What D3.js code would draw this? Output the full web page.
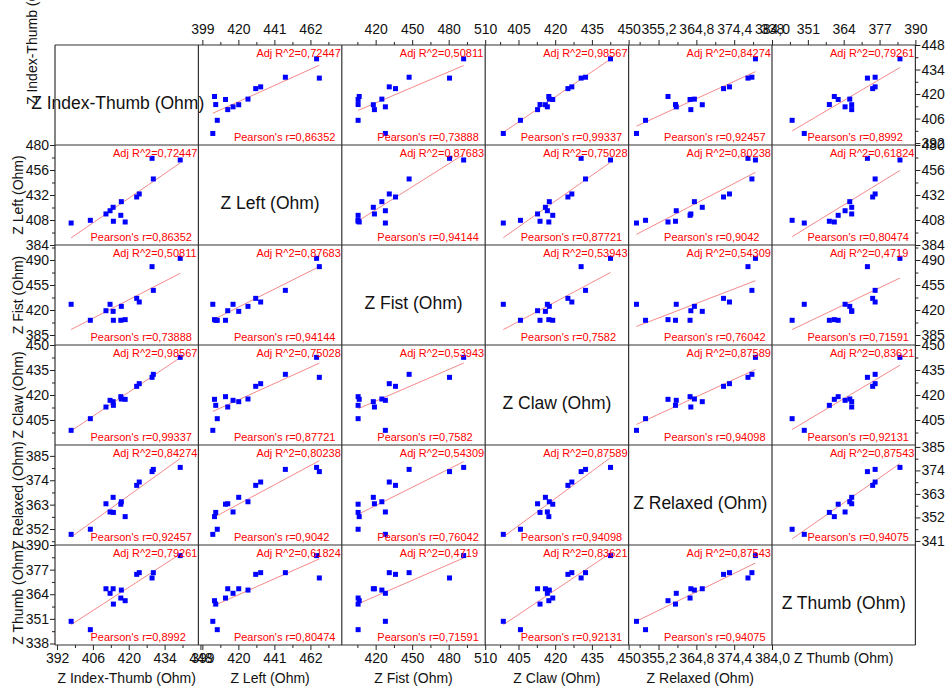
<!DOCTYPE html>
<html lang="en">
<head>
    <meta charset="utf-8" />
    <title>Impedance scatter matrix</title>
    <script src="https://cdnjs.cloudflare.com/ajax/libs/d3/7.8.5/d3.min.js"></script>
    <style>
        body { margin: 0; background: #fff; }
        text { font-family: Arial, "Liberation Sans", sans-serif; }
    </style>
</head>
<body>
<script>
    // Variable names (diagonal + axis titles)
    const names = ["Z Index-Thumb (Ohm)", "Z Left (Ohm)", "Z Fist (Ohm)", "Z Claw (Ohm)", "Z Relaxed (Ohm)", "Z Thumb (Ohm)"];

    // Measurements, one value per subject (14 subjects)
    const indexThumb = [397.5, 405.0, 411.1, 412.7, 413.9, 414.0, 416.9, 417.1, 418.6, 423.1, 424.1, 429.1, 429.6, 440.1];
    const leftHand   = [405.1, 407.7, 413.8, 416.9, 420.2, 406.8, 412.5, 425.6, 406.1, 430.1, 433.0, 467.2, 447.4, 465.6];
    const fist       = [428.0, 405.6, 419.0, 428.0, 418.1, 405.6, 405.6, 425.1, 406.5, 436.3, 431.2, 480.7, 447.5, 492.3];
    const claw       = [398.8, 405.8, 412.8, 416.8, 416.0, 413.8, 419.0, 417.6, 417.4, 425.2, 426.8, 430.6, 432.4, 442.6];
    const relaxed    = [349.6, 351.9, 363.4, 359.7, 366.3, 359.5, 363.2, 364.3, 357.6, 371.7, 373.2, 377.9, 378.9, 379.8];
    const thumb      = [349.7, 345.3, 366.9, 364.5, 366.9, 358.8, 362.0, 366.2, 360.6, 374.5, 375.4, 372.6, 375.4, 384.4];
    const vars = [indexThumb, leftHand, fist, claw, relaxed, thumb];

    // Axis ranges (x per column, y per row) and tick values
    const xDomains = [[391.2, 447.2], [396.7, 480.3], [392.2, 510], [391.4, 450], [347.6, 384], [338, 390]];
    const yDomains = [[390.9, 448], [384, 480], [371, 511], [390, 450], [344.8, 389.9], [337.2, 390]];
    const xTicks = [[392, 406, 420, 434, 448], [399, 420, 441, 462], [420, 450, 480, 510], [405, 420, 435, 450], [355.2, 364.8, 374.4, 384.0], [338, 351, 364, 377, 390]];
    const yTicks = [[392, 406, 420, 434, 448], [384, 408, 432, 456, 480], [385, 420, 455, 490], [405, 420, 435, 450], [352, 363, 374, 385], [338, 351, 364, 377, 390]];
    // the right-hand axes are not all identical to the left ones
    const yDomainsRight = [[390.9, 448], [384, 480], [371, 511], [390, 450], [339.1, 385.9], [337.2, 390]];
    const yTicksRight = [[392, 406, 420, 434, 448], [384, 408, 432, 456, 480], [385, 420, 455, 490], [405, 420, 435, 450], [341, 352, 363, 374, 385], [338, 351, 364, 377, 390]];

    // Fit statistics printed in each cell, per variable pair
    const pairs   = ["0-1", "0-2", "0-3", "0-4", "0-5", "1-2", "1-3", "1-4", "1-5", "2-3", "2-4", "2-5", "3-4", "3-5", "4-5"];
    const adjR2   = ["0,72447", "0,50811", "0,98567", "0,84274", "0,79261", "0,87683", "0,75028", "0,80238", "0,61824", "0,53943", "0,54309", "0,4719", "0,87589", "0,83621", "0,87543"];
    const pearson = ["0,86352", "0,73888", "0,99337", "0,92457", "0,8992", "0,94144", "0,87721", "0,9042", "0,80474", "0,7582", "0,76042", "0,71591", "0,94098", "0,92131", "0,94075"];

    const W = 946, H = 691;
    const left0 = 55, top0 = 45, cellW = 143.4, cellH = 100, n = 6;

    const svg = d3.select("body").append("svg")
        .attr("width", W).attr("height", H);

    const xs = xDomains.map((d, j) => d3.scaleLinear().domain(d).range([left0 + j * cellW, left0 + (j + 1) * cellW]));
    const ys = yDomains.map((d, i) => d3.scaleLinear().domain(d).range([top0 + (i + 1) * cellH, top0 + i * cellH]));
    const ysRight = yDomainsRight.map((d, i) => d3.scaleLinear().domain(d).range([top0 + (i + 1) * cellH, top0 + i * cellH]));

    const fmt = (j) => j === 4 ? (v => d3.format(".1f")(v).replace(".", ",")) : d3.format("d");

    function minorTicks(ticks, domain) {
        const step = ticks[1] - ticks[0];
        const out = [];
        for (let v = ticks[0] - step * 3.5; v <= domain[1] + 1e-6; v += step) {
            if (v >= domain[0] - 1e-6) out.push(v);
        }
        return out;
    }

    function styleAxis(g) {
        g.select(".domain").remove();
        g.selectAll("line").attr("stroke", "#222");
        g.selectAll("text").attr("font-size", 14).attr("fill", "#111")
            .attr("font-family", "Arial, 'Liberation Sans', sans-serif");
    }

    // cells
    const cells = svg.append("g");
    for (let i = 0; i < n; i++) {
        for (let j = 0; j < n; j++) {
            const x0 = left0 + j * cellW, y0 = top0 + i * cellH;
            const cell = cells.append("g");
            if (i === j) {
                cell.append("text")
                    .attr("x", i === 0 ? x0 + cellW / 2 - 9 : x0 + cellW / 2)
                    .attr("y", y0 + cellH / 2 + 14)
                    .attr("text-anchor", "middle")
                    .attr("font-size", 17.5)
                    .attr("fill", "#111")
                    .text(names[i]);
                continue;
            }
            const xv = vars[j], yv = vars[i];
            const pts = xv.map((v, k) => [v, yv[k]]);

            // linear fit y = a + b x
            const mx = d3.mean(xv), my = d3.mean(yv);
            const b = d3.sum(pts, p => (p[0] - mx) * (p[1] - my)) / d3.sum(pts, p => (p[0] - mx) ** 2);
            const a = my - b * mx;
            const [xmin, xmax] = d3.extent(xv);
            cell.append("line")
                .attr("x1", xs[j](xmin)).attr("y1", ys[i](a + b * xmin))
                .attr("x2", xs[j](xmax)).attr("y2", ys[i](a + b * xmax))
                .attr("stroke", "#f48a8a").attr("stroke-width", 1);

            cell.selectAll("rect.pt").data(pts).join("rect")
                .attr("class", "pt")
                .attr("x", d => xs[j](d[0]) - 2.5)
                .attr("y", d => ys[i](d[1]) - 2.5)
                .attr("width", 5).attr("height", 5)
                .attr("fill", "#0000ff");

            const key = Math.min(i, j) + "-" + Math.max(i, j);
            const idx = pairs.indexOf(key);
            cell.append("text")
                .attr("x", x0 + 58).attr("y", y0 + 12)
                .attr("font-size", 11).attr("fill", "#ff0000")
                .text("Adj R^2=" + adjR2[idx]);
            cell.append("text")
                .attr("x", x0 + 35.5).attr("y", y0 + cellH - 4)
                .attr("font-size", 11).attr("fill", "#ff0000")
                .text("Pearson's r=" + pearson[idx]);
        }
    }

    // grid frame
    const frame = svg.append("g");
    for (let k = 0; k <= n; k++) {
        frame.append("line")
            .attr("x1", left0 + k * cellW).attr("x2", left0 + k * cellW)
            .attr("y1", top0).attr("y2", top0 + n * cellH)
            .attr("stroke", "#333").attr("stroke-width", 1.2);
        frame.append("line")
            .attr("x1", left0).attr("x2", left0 + n * cellW)
            .attr("y1", top0 + k * cellH).attr("y2", top0 + k * cellH)
            .attr("stroke", "#333").attr("stroke-width", 1.2);
    }

    // axes: top and bottom per column, left and right per row
    for (let j = 0; j < n; j++) {
        if (j !== 0) {
            svg.append("g").attr("transform", `translate(0,${top0})`)
                .call(d3.axisTop(xs[j]).tickValues(minorTicks(xTicks[j], xDomains[j])).tickSize(3).tickFormat(""))
                .call(styleAxis);
            svg.append("g").attr("transform", `translate(0,${top0})`)
                .call(d3.axisTop(xs[j]).tickValues(xTicks[j]).tickSize(5).tickPadding(6).tickFormat(fmt(j)))
                .call(styleAxis);
        }
        if (j !== n - 1) {
            const yb = top0 + n * cellH;
            svg.append("g").attr("transform", `translate(0,${yb})`)
                .call(d3.axisBottom(xs[j]).tickValues(minorTicks(xTicks[j], xDomains[j])).tickSize(3).tickFormat(""))
                .call(styleAxis);
            svg.append("g").attr("transform", `translate(0,${yb})`)
                .call(d3.axisBottom(xs[j]).tickValues(xTicks[j]).tickSize(5).tickPadding(3).tickFormat(fmt(j)))
                .call(styleAxis);
        }
    }
    for (let i = 0; i < n; i++) {
        if (i !== 0) {
            svg.append("g").attr("transform", `translate(${left0},0)`)
                .call(d3.axisLeft(ys[i]).tickValues(minorTicks(yTicks[i], yDomains[i])).tickSize(3).tickFormat(""))
                .call(styleAxis);
            svg.append("g").attr("transform", `translate(${left0},0)`)
                .call(d3.axisLeft(ys[i]).tickValues(yTicks[i]).tickSize(5).tickPadding(1).tickFormat(d3.format("d")))
                .call(styleAxis);
        }
        if (i !== n - 1) {
            const xr = left0 + n * cellW;
            svg.append("g").attr("transform", `translate(${xr},0)`)
                .call(d3.axisRight(ysRight[i]).tickValues(minorTicks(yTicksRight[i], yDomainsRight[i])).tickSize(3).tickFormat(""))
                .call(styleAxis);
            svg.append("g").attr("transform", `translate(${xr},0)`)
                .call(d3.axisRight(ysRight[i]).tickValues(yTicksRight[i]).tickSize(5).tickPadding(1).tickFormat(d3.format("d")))
                .call(styleAxis);
        }
    }

    // axis titles
    for (let j = 0; j < n; j++) {
        const last = j === n - 1;
        svg.append("text")
            .attr("x", left0 + j * cellW + cellW / 2)
            .attr("y", last ? 663 : 683)
            .attr("text-anchor", "middle")
            .attr("font-size", 14).attr("fill", "#111")
            .text(names[j]);
    }
    for (let i = 0; i < n; i++) {
        const first = i === 0;
        svg.append("text")
            .attr("transform", first
                ? `translate(37,105) rotate(-90)`
                : `translate(23,${top0 + i * cellH + cellH / 2}) rotate(-90)`)
            .attr("text-anchor", first ? "start" : "middle")
            .attr("font-size", 14).attr("fill", "#111")
            .text(names[i]);
    }
</script>
</body>
</html>
